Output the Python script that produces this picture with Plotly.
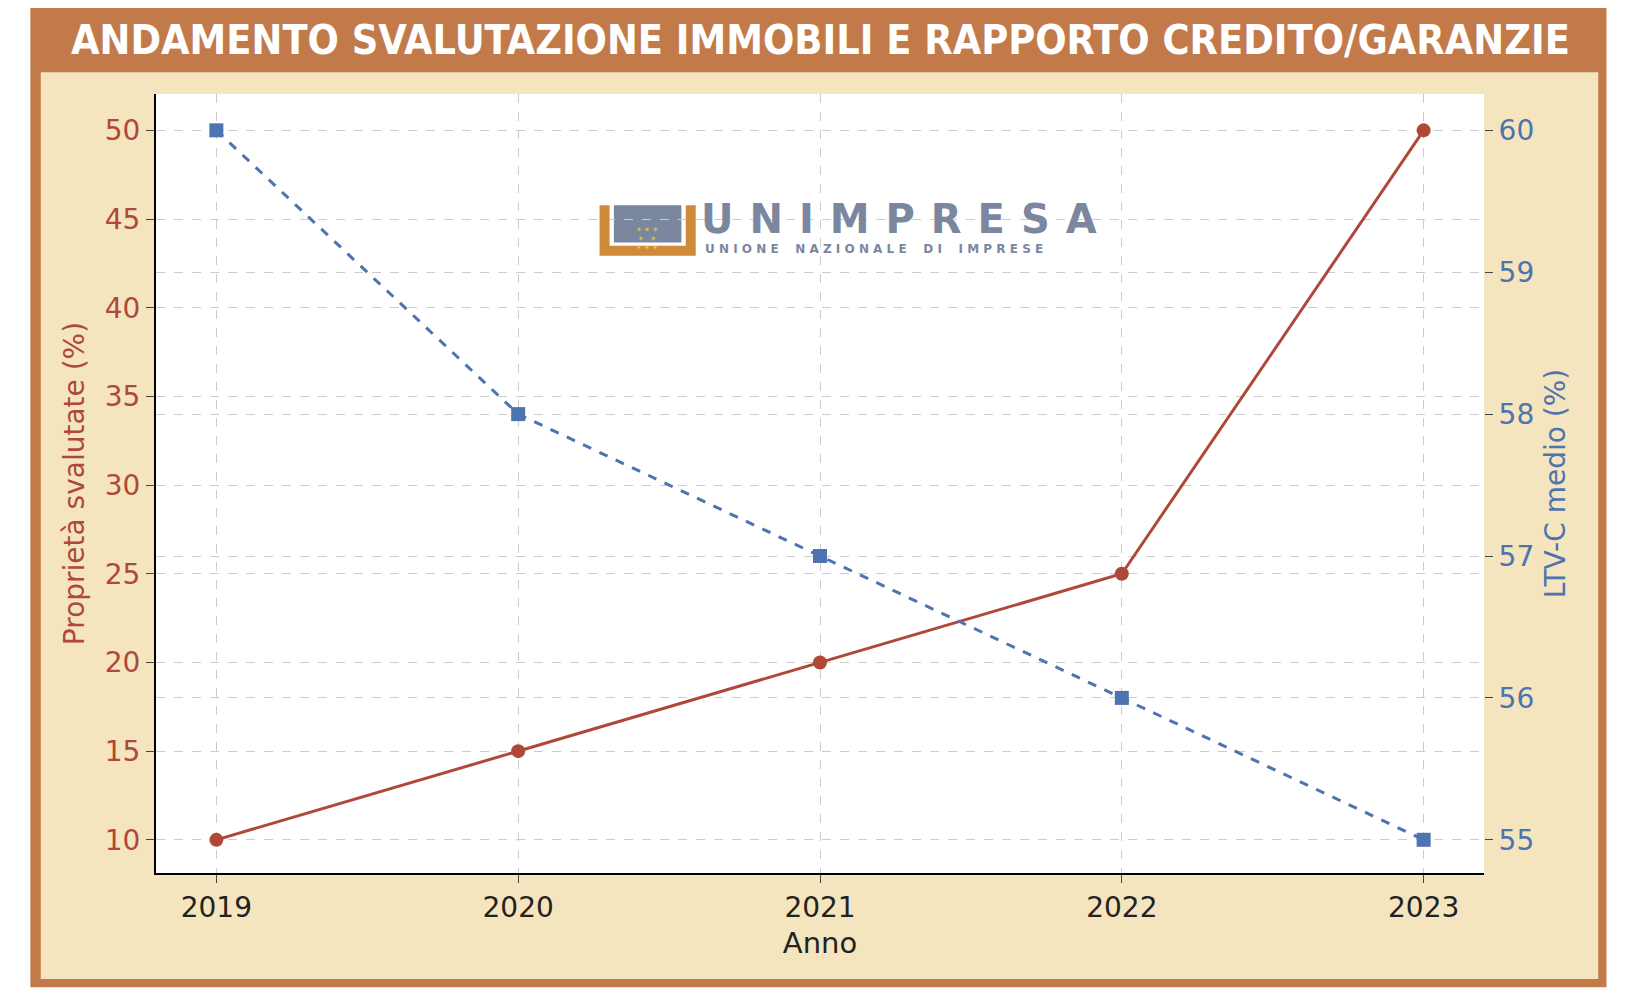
import plotly.graph_objects as go

anni = [2019, 2020, 2021, 2022, 2023]
proprieta = [10, 15, 20, 25, 50]
ltv = [60, 58, 57, 56, 55]

red = "#B0483A"
blue = "#4D74AE"

# plot area in reference view pixels (view is about 0.963 of page pixels)
X0, X1, Y0, Y1 = 143, 1422, 83, 833
S = 1.038
def px(x):
    return (x - X0) / (X1 - X0)
def py(y):
    return (Y1 - y) / (Y1 - Y0)

fig = go.Figure()
fig.add_trace(go.Scatter(x=anni, y=proprieta, mode="lines+markers", cliponaxis=False,
                         line=dict(color=red, width=3),
                         marker=dict(symbol="circle", size=14, color=red)))
fig.add_trace(go.Scatter(x=anni, y=ltv, mode="lines+markers", yaxis="y2", cliponaxis=False,
                         line=dict(color=blue, width=3, dash="dash"),
                         marker=dict(symbol="square", size=14, color=blue)))

def rect(x0, x1, y0, y1, color):
    fig.add_shape(type="rect", xref="paper", yref="paper", x0=px(x0), x1=px(x1),
                  y0=py(y1), y1=py(y0), fillcolor=color, line=dict(width=0), layer="below")

rect(22, 1540, 0, 943, "#C27A4A")
rect(32, 1532, 62, 935, "#F4E5BE")
rect(X0, X1, Y0, Y1, "white")

# logo
fig.add_shape(type="path", xref="paper", yref="paper",
              path="M %f %f L %f %f L %f %f L %f %f" % (px(575), py(190), px(575), py(234),
                                                        px(658), py(234), px(658), py(190)),
              line=dict(color="#D08A3A", width=10), fillcolor="rgba(0,0,0,0)")
rect(584, 649, 190, 226, "#7A879E")
fig.add_annotation(xref="paper", yref="paper", x=px(616), y=py(208), text="✶ ✶ ✶<br>✶   ✶<br>✶ ✶ ✶",
                   showarrow=False, font=dict(color="#E8D040", size=7))
sp = "\u2009\u2009"
fig.add_annotation(xref="paper", yref="paper", x=px(666), y=py(203), xanchor="left", yanchor="middle",
                   text=sp.join("UNIMPRESA"), showarrow=False,
                   font=dict(color="#7A879E", size=40, family="DejaVu Sans", weight=600))
fig.add_annotation(xref="paper", yref="paper", x=px(670), y=py(232), xanchor="left", yanchor="middle",
                   text="<b>U N I O N E    N A Z I O N A L E    D I    I M P R E S E</b>",
                   showarrow=False, font=dict(color="#7A879E", size=12, family="DejaVu Sans"))

fig.add_annotation(xref="paper", yref="paper", x=px(783), y=py(31), xanchor="center", yanchor="middle",
                   text="<b>ANDAMENTO SVALUTAZIONE IMMOBILI E RAPPORTO CREDITO/GARANZIE</b>",
                   showarrow=False, font=dict(color="white", size=41, family="DejaVu Sans Condensed"))

grid = dict(showgrid=True, gridcolor="#CCCCCC", griddash="dash", gridwidth=1)
fig.update_layout(
    width=1636, height=996, showlegend=False,
    paper_bgcolor="white", plot_bgcolor="rgba(0,0,0,0)",
    margin=dict(l=round(X0 * S), r=1636 - round(X1 * S), t=round(Y0 * S), b=996 - round(Y1 * S)),
    font=dict(family="DejaVu Sans", size=28),
    xaxis=dict(range=[2018.8, 2023.2], tickvals=anni, ticks="outside", ticklen=8,
               showline=True, linecolor="black", linewidth=2, tickfont=dict(color="#222"),
               title=dict(text="Anno", font=dict(size=29, color="#222"), standoff=10),
               zeroline=False, **grid),
    yaxis=dict(range=[8.13, 52.05], tickvals=[10, 15, 20, 25, 30, 35, 40, 45, 50], ticks="outside",
               ticklen=8, showline=True, linecolor="black", linewidth=2, tickfont=dict(color=red),
               title=dict(text="Proprietà svalutate (%)", font=dict(size=28, color=red), standoff=12),
               zeroline=False, **grid),
    yaxis2=dict(range=[54.766, 60.256], overlaying="y", side="right", tickvals=[55, 56, 57, 58, 59, 60],
                ticks="outside", ticklen=8, tickfont=dict(color=blue),
                title=dict(text="LTV-C medio (%)", font=dict(size=28, color=blue), standoff=12),
                zeroline=False, **grid),
)
fig.write_html("out.html")
